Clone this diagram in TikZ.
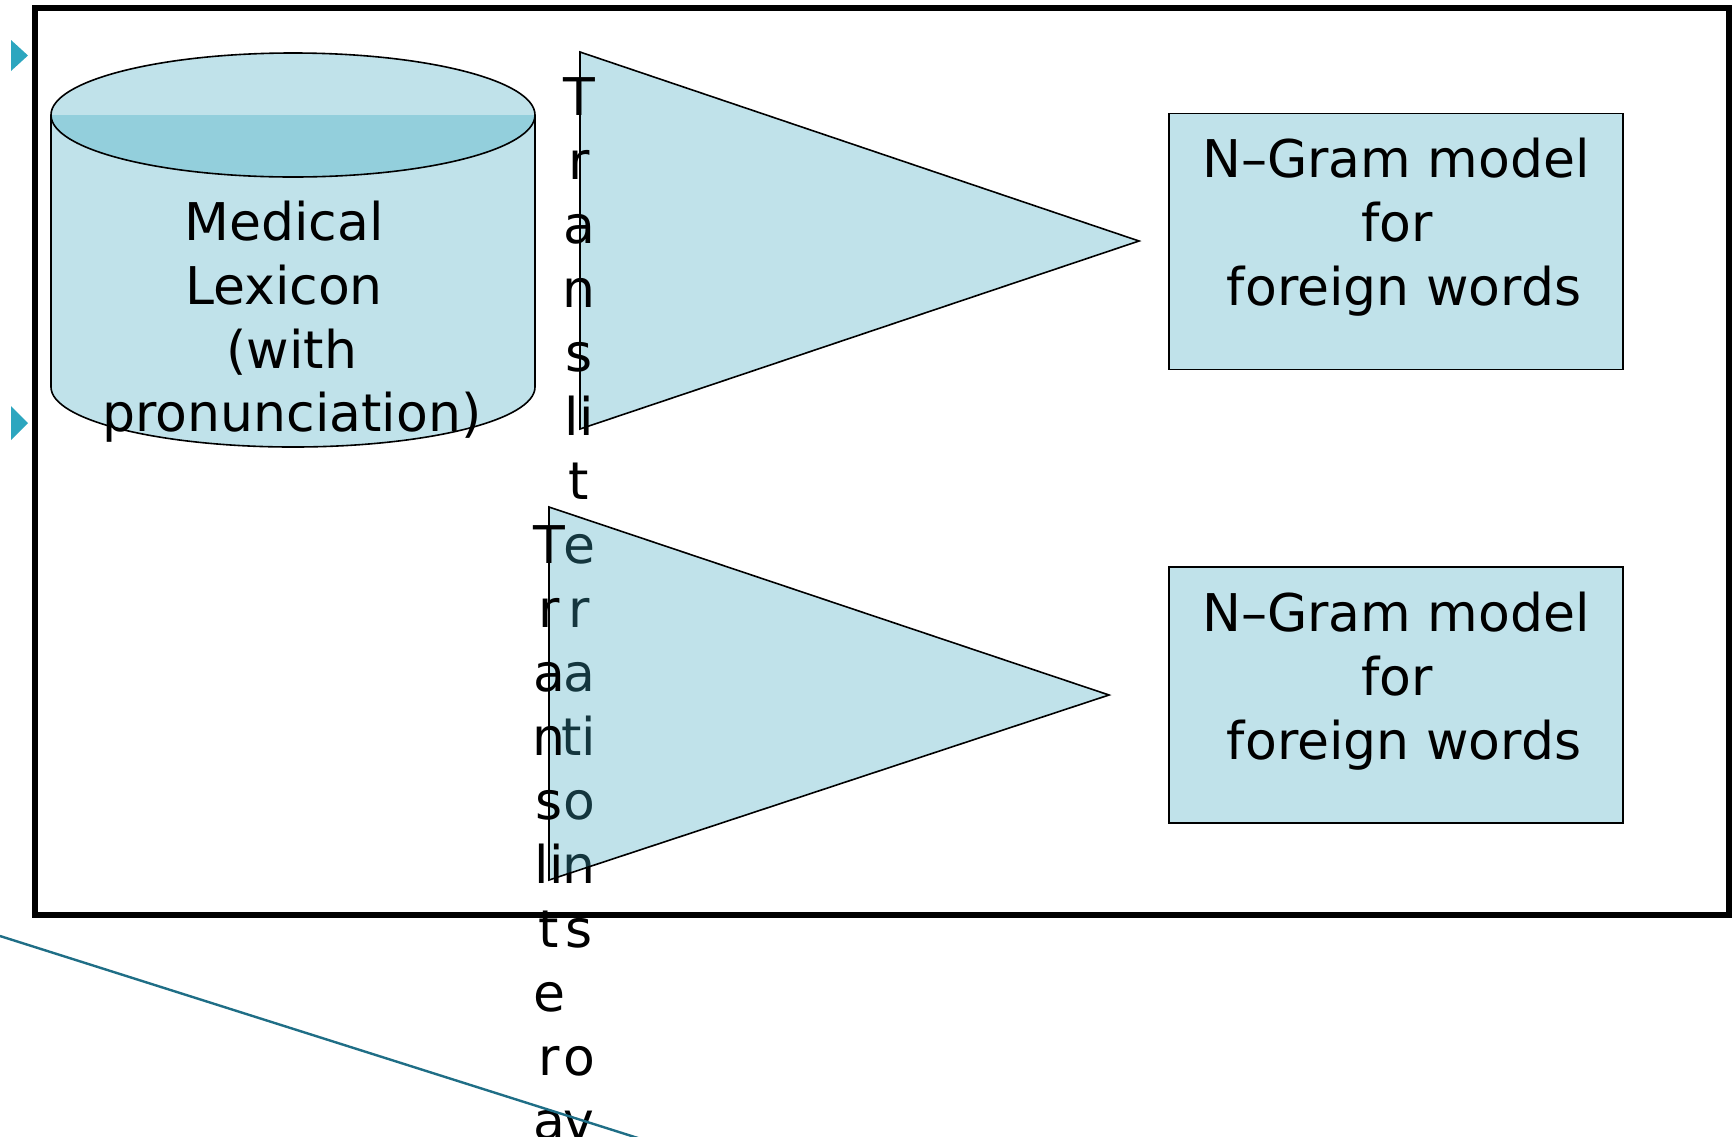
\documentclass[tikz,border=0pt]{standalone}
\usepackage{fontspec}
\setmainfont{DejaVu Sans}
\definecolor{paleblue}{RGB}{192,226,234}
\definecolor{capblue}{RGB}{147,207,220}
\definecolor{tealfill}{RGB}{62,166,191}
\definecolor{bulletteal}{RGB}{44,166,191}
\definecolor{ruleteal}{RGB}{31,110,134}
\begin{document}
\begin{tikzpicture}[x=0.5pt,y=-0.5pt,
  lbl/.style={font=\fontsize{26}{31}\selectfont, inner sep=0pt, anchor=base},
  outline/.style={draw=black, line width=0.8pt},
  tri/.style={fill=tealfill, fill opacity=0.325, draw=black, line width=0.8pt},
  modelbox/.style={rectangle, fill=paleblue, draw=black, line width=0.9pt,
    minimum width=227pt, minimum height=128pt, inner sep=0pt},
  bullet/.style={fill=bulletteal},
  frame/.style={draw=black, line width=2.6pt}]
\useasboundingbox (0,0) rectangle (1732,1136);
\clip (0,0) rectangle (1732,1136);

% outer frame
\draw[frame] (35,8) rectangle (1729,915);

% list bullets
\coordinate (b1) at (11,40);
\coordinate (b2) at (11,406);
\fill[bullet] (b1) -- ++(17,15.5) -- ++(-17,15.5) -- cycle;
\fill[bullet] (b2) -- ++(17,17) -- ++(-17,17) -- cycle;

% lexicon cylinder
\coordinate (cyltop) at (293,115);
\coordinate (cylbot) at (293,387);
\fill[paleblue] (51,115) -- (51,387)
  arc[start angle=180, end angle=0, x radius=242, y radius=60] -- (535,115) -- cycle;
\fill[paleblue] (cyltop) ellipse [x radius=242, y radius=62];
\fill[capblue] (51,115) arc[start angle=180, end angle=0, x radius=242, y radius=62] -- cycle;
\draw[outline] (cyltop) ellipse [x radius=242, y radius=62];
\draw[outline] (51,115) -- (51,387)
  arc[start angle=180, end angle=0, x radius=242, y radius=60] -- (535,115);

% first transliteration triangle and its label
\coordinate (t1a) at (580,52);
\coordinate (t1b) at (1139,241);
\coordinate (t1c) at (580,429);
\draw[tri] (t1a) -- (t1b) -- (t1c) -- cycle;
\foreach \ch/\k in {T/0,r/1,a/2,n/3,s/4,li/5,t/6,e/7,r/8,a/9,ti/10,o/11,n/12,s/13,o/15,v/16}
  \node[lbl] (ta\k) at (579,115+64*\k) {\ch};

% second transliteration triangle and its label
\coordinate (t2a) at (549,507);
\coordinate (t2b) at (1109,695);
\coordinate (t2c) at (549,880);
\draw[tri] (t2a) -- (t2b) -- (t2c) -- cycle;
\foreach \ch/\k in {T/7,r/8,a/9,n/10,s/11,li/12,t/13,e/14,r/15,a/16}
  \node[lbl] (tb\k) at (549,115+64*\k) {\ch};

% n-gram model boxes
\node[modelbox] (m1) at (1396,241.5) {};
\node[modelbox] (m2) at (1396,695) {};
\node[lbl] (m1a) at (1396,177) {N–Gram model};
\node[lbl] (m1b) at (1397,241) {for};
\node[lbl] (m1c) at (1404,305) {foreign words};
\node[lbl] (m2a) at (1396,631) {N–Gram model};
\node[lbl] (m2b) at (1397,695) {for};
\node[lbl] (m2c) at (1404,759) {foreign words};

% lexicon label
\node[lbl] (lx1) at (284,240) {Medical};
\node[lbl] (lx2) at (284,304) {Lexicon};
\node[lbl] (lx3) at (292,368) {(with};
\node[lbl] (lx4) at (292,431) {pronunciation)};

% slanted rule at the lower left
\coordinate (r1) at (0,936);
\coordinate (r2) at (660,1145);
\draw[ruleteal, line width=1.2pt] (r1) -- (r2);
\end{tikzpicture}
\end{document}
